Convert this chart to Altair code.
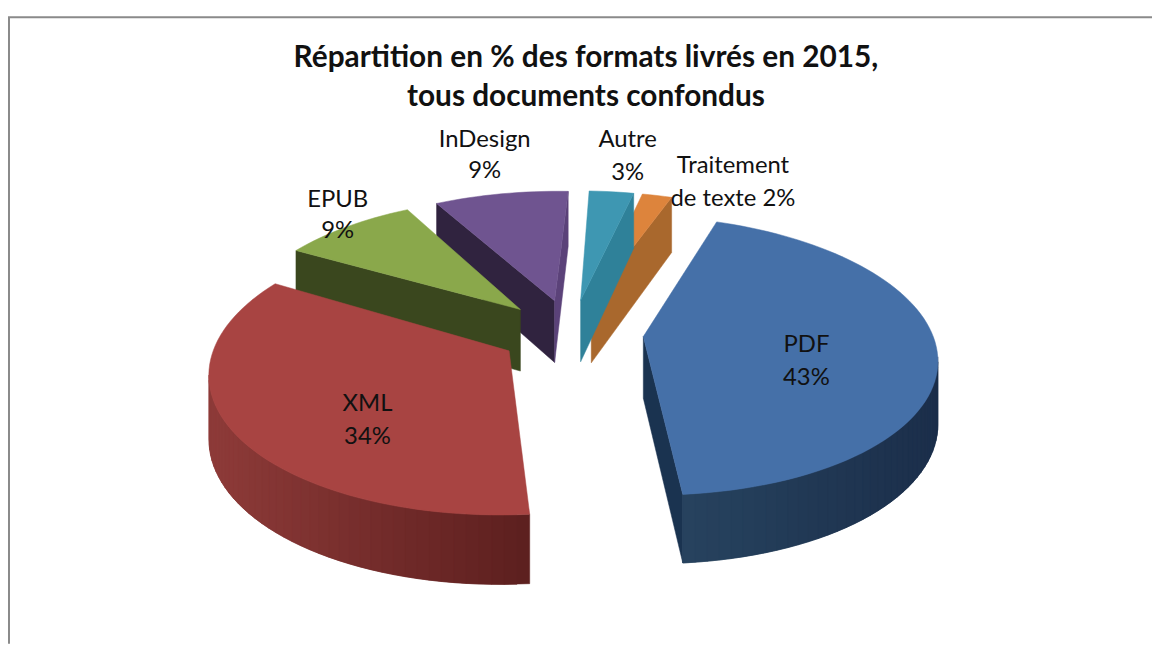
import math
import altair as alt

# --- values -----------------------------------------------------------------
categories = ["PDF", "XML", "EPUB", "InDesign", "Autre", "Traitement de texte"]
shares = [43, 34, 9, 9, 3, 2]
title_lines = ["Répartition en % des formats livrés en 2015,", "tous documents confondus"]

# --- styling ----------------------------------------------------------------
top_colors = ["#4570A8", "#A84442", "#8AA84B", "#6F5490", "#3E97B2", "#DD843C"]
cut_colors = ["#1A3350", "#5E201F", "#3A471E", "#30233F", "#2F8199", "#A9682D"]
wall_left = ["#27435F", "#8E3B39", "#46562A", "#5B4279", "#2F8199", "#A9682D"]
wall_right = ["#1B2E4A", "#5C1F1E", "#3A471E", "#4A3464", "#2F8199", "#A9682D"]
cut_right = ["#1A3350", "#5E201F", "#3A471E", "#5B4279", "#2F8199", "#A9682D"]
FONT = "Lato"

# 3D perspective view of the exploded pie (page pixels)
START_DEG = 20.5
CX, CY = 575.0, 326.0
RX, RY, PERSP = 292.0, 134.6, 0.178
EXPLODE = 0.235
APEX_EXPLODE = 0.25
APEX_DROP = 6.0
DEPTH, DEPTH_PERSP = 62.0, 0.10
STEP = 2.0
OX, OY = 8.0, 8.0  # page margin


def mix(a, b, t):
    pa = [int(a[i:i + 2], 16) for i in (1, 3, 5)]
    pb = [int(b[i:i + 2], 16) for i in (1, 3, 5)]
    return "#%02x%02x%02x" % tuple(round(p + (q - p) * t) for p, q in zip(pa, pb))


def area(poly):
    return sum(
        poly[i][0] * poly[(i + 1) % len(poly)][1] - poly[(i + 1) % len(poly)][0] * poly[i][1]
        for i in range(len(poly))
    ) / 2


def feature(poly, color):
    ring = [[round(x - OX, 2), round(y - OY, 2)] for x, y in poly]
    ring.append(ring[0])
    return {
        "type": "Feature",
        "geometry": {"type": "Polygon", "coordinates": [ring]},
        "properties": {"c": color},
    }


def project(u, v):
    d = 1 + PERSP * v
    return (CX + RX * u / d, CY - RY * v / d)


def down(p, v):
    return (p[0], p[1] + DEPTH / (1 + DEPTH_PERSP * v))


total = sum(shares)
slices = []
angle = START_DEG
for i, s in enumerate(shares):
    sweep = 360.0 * s / total
    slices.append((i, angle, angle + sweep))
    angle += sweep

# painter's order: back slices first
order = [5, 4, 3, 2, 1, 0]
features = []
for i, a0, a1 in (slices[j] for j in order):
    mid = math.radians((a0 + a1) / 2)
    eu, ev = EXPLODE * math.sin(mid), EXPLODE * math.cos(mid)
    ax, ay = project(APEX_EXPLODE * math.sin(mid), APEX_EXPLODE * math.cos(mid))
    apex = (ax, ay + APEX_DROP)
    apex_low = down(apex, 0.0)

    n = max(2, int(round((a1 - a0) / STEP)))
    degs = [a0 + (a1 - a0) * k / n for k in range(n + 1)]
    pts = []
    for d in degs:
        t = math.radians(d)
        u, v = eu + math.sin(t), ev + math.cos(t)
        pts.append(project(u, v) + (v,))

    first = pts[0]
    q = [apex, first[:2], down(first[:2], first[2]), apex_low]
    if area(q) < 0:
        features.append(feature(q, cut_colors[i]))
    last = pts[-1]
    q = [apex, last[:2], down(last[:2], last[2]), apex_low]
    if area(q) > 0:
        features.append(feature(q, cut_right[i]))

    xs = [p[0] for p in pts]
    x_lo, x_hi = min(xs), max(xs)
    for k in range(len(pts) - 1):
        p, r = pts[k], pts[min(k + 2, len(pts) - 1)]
        q = [p[:2], r[:2], down(r[:2], r[2]), down(p[:2], p[2])]
        if area(q) < 0:
            t = ((p[0] + pts[k + 1][0]) / 2 - x_lo) / max(1.0, x_hi - x_lo)
            features.append(feature(q, mix(wall_left[i], wall_right[i], t)))

    features.append(feature([apex] + [p[:2] for p in pts], top_colors[i]))

W, H = 1152, 638

pie = (
    alt.Chart(alt.Data(values=features))
    .mark_geoshape(strokeWidth=0.5)
    .encode(
        fill=alt.Color("properties.c:N", scale=None, legend=None),
        stroke=alt.Stroke("properties.c:N", scale=None, legend=None),
    )
    .project(type="identity", scale=1, translate=[0, 0])
)


def text(line, x, y, size=24, weight="normal"):
    return (
        alt.Chart(alt.Data(values=[{"t": line}]))
        .mark_text(font=FONT, fontSize=size, fontWeight=weight, color="#111111", align="center", baseline="middle")
        .encode(text="t:N", x=alt.value(x - OX), y=alt.value(y - OY))
    )


def label(i):
    return f"{shares[i]}%"


layers = [
    alt.Chart(alt.Data(values=[{"a": 0}])).mark_rule(color="#8a8a8a", strokeWidth=2).encode(
        x=alt.value(1), y=alt.value(7), y2=alt.value(H)),
    alt.Chart(alt.Data(values=[{"a": 0}])).mark_rule(color="#8a8a8a", strokeWidth=2).encode(
        x=alt.value(0), x2=alt.value(W), y=alt.value(7)),
    pie,
    text(title_lines[0], 590, 56, 30, "bold"),
    text(title_lines[1], 590, 95, 30, "bold"),
    text(categories[0], 812, 345),
    text(label(0), 812, 378),
    text(categories[1], 370, 405),
    text(label(1), 370, 438),
    text(categories[2], 340, 199),
    text(label(2), 340, 230),
    text(categories[3], 488, 139),
    text(label(3), 488, 170),
    text(categories[4], 632, 139),
    text(label(4), 632, 172),
    text("Traitement", 738, 165),
    text("de texte " + label(5), 738, 198),
]

chart = (
    alt.layer(*layers)
    .properties(width=W, height=H, padding=0, background="white", autosize=alt.AutoSizeParams(type="none"))
    .configure_view(stroke=None)
)

chart.save("out.html", embed_options={"renderer": "svg", "actions": False})
